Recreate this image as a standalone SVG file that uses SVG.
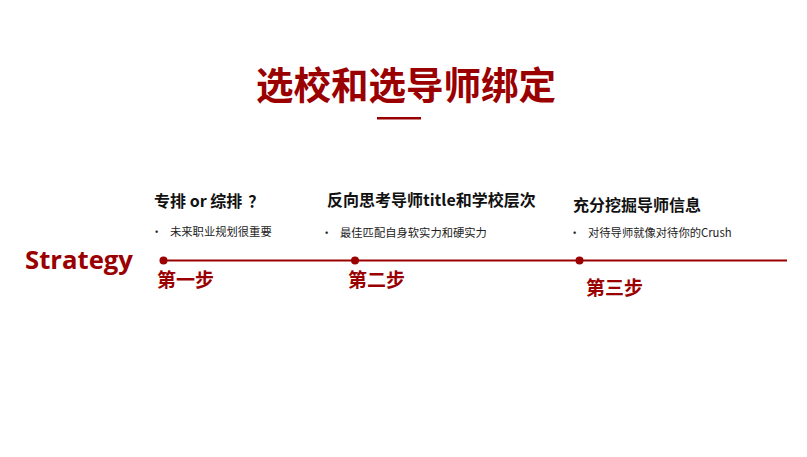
<svg xmlns="http://www.w3.org/2000/svg" width="807" height="457" viewBox="0 0 807 457">
<style>
.red{fill:#9a0000}
.cjk{font-family:"Noto Sans CJK SC","Noto Sans",sans-serif}
.h{font-size:16px;font-weight:bold;fill:#111}
.b{font-size:11.3px;fill:#222}
.step{font-size:19px;font-weight:bold;fill:#9a0000}
</style>
<rect width="807" height="457" fill="#fff"/>
<g id="title">
<text x="406" y="99" text-anchor="middle" class="cjk red" font-size="37.5" font-weight="bold">选校和选导师绑定</text>
<rect x="377" y="117" width="44" height="2.5" fill="#9a0000"/>
</g>
<g id="strategy">
<text x="25" y="269" font-family="'Open Sans','Noto Sans',sans-serif" font-size="25" font-weight="bold" class="red" textLength="108" lengthAdjust="spacingAndGlyphs">Strategy</text>
</g>
<g id="connectors">
<line x1="163" y1="260.5" x2="787" y2="260.5" stroke="#9a0000" stroke-width="2"/>
</g>
<g id="step1">
<circle cx="163.5" cy="260.5" r="4" fill="#9a0000"/>
<text x="154" y="207" class="cjk h">专排 or 综排<tspan dx="6">？</tspan></text>
<text x="151" y="236" class="cjk b" font-size="13">•</text>
<text x="170" y="236" class="cjk b">未来职业规划很重要</text>
<text x="157" y="287" class="cjk step">第一步</text>
</g>
<g id="step2">
<circle cx="355" cy="260.5" r="4" fill="#9a0000"/>
<text x="327" y="206" class="cjk h">反向思考导师title和学校层次</text>
<text x="321" y="237" class="cjk b" font-size="13">•</text>
<text x="340" y="237" class="cjk b">最佳匹配自身软实力和硬实力</text>
<text x="348" y="287" class="cjk step">第二步</text>
</g>
<g id="step3">
<circle cx="579.5" cy="260.5" r="4" fill="#9a0000"/>
<text x="573" y="211" class="cjk h">充分挖掘导师信息</text>
<text x="569" y="237" class="cjk b" font-size="13">•</text>
<text x="588" y="237" class="cjk b">对待导师就像对待你的Crush</text>
<text x="586" y="295" class="cjk step">第三步</text>
</g>
</svg>
